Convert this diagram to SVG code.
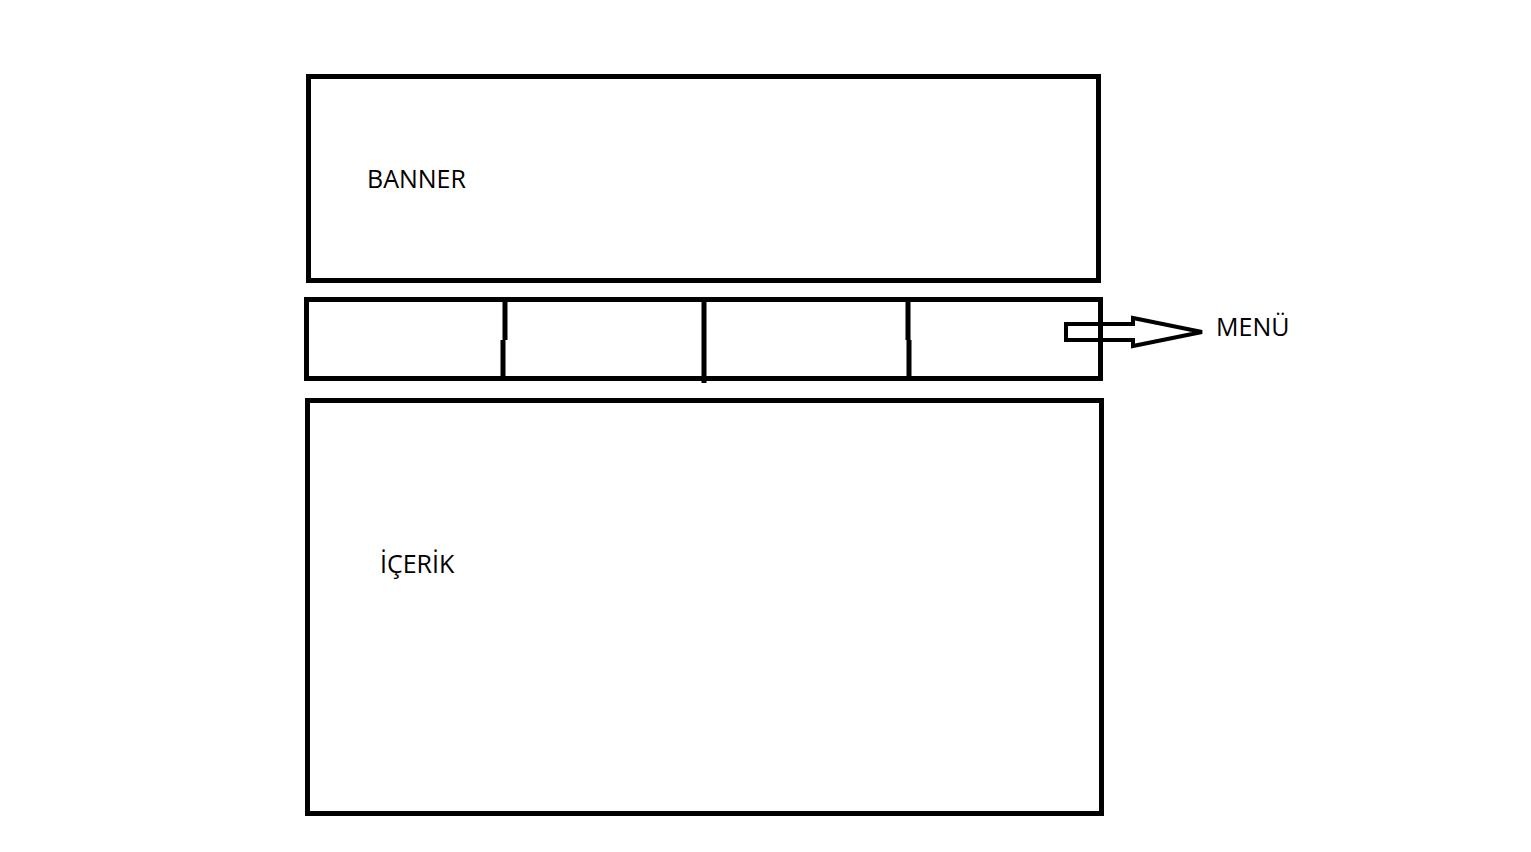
<svg xmlns="http://www.w3.org/2000/svg" width="1531" height="852" viewBox="0 0 1531 852">
<style>
.box{fill:none;stroke:#000;stroke-width:5}
.div{stroke:#000;stroke-width:5;fill:none}
.lbl{font-family:"Open Sans","Noto Sans",sans-serif;font-size:25px;fill:#000}
</style>
<rect width="1531" height="852" fill="#fff"/>
<g id="banner">
<rect class="box" x="308.5" y="76.5" width="790" height="204"/>
<text class="lbl" x="367" y="188">BANNER</text>
</g>
<g id="menu">
<rect class="box" x="306.5" y="299.5" width="794" height="79"/>
<path class="div" d="M505 301 V340 M503 340 V377 M704 302 V383 M908 301 V340 M909 340 V377"/>
</g>
<g id="content">
<rect class="box" x="307.5" y="400.5" width="794" height="413"/>
<text class="lbl" x="380" y="573">İÇERİK</text>
</g>
<g id="menu-label">
<text class="lbl" x="1216" y="336">MENÜ</text>
</g>
<g id="connectors">
<path d="M1066 324 H1133 V318 L1202 332 L1133 346 V340 H1066 Z" fill="none" stroke="#000" stroke-width="4" stroke-linejoin="miter"/>
</g>
</svg>
